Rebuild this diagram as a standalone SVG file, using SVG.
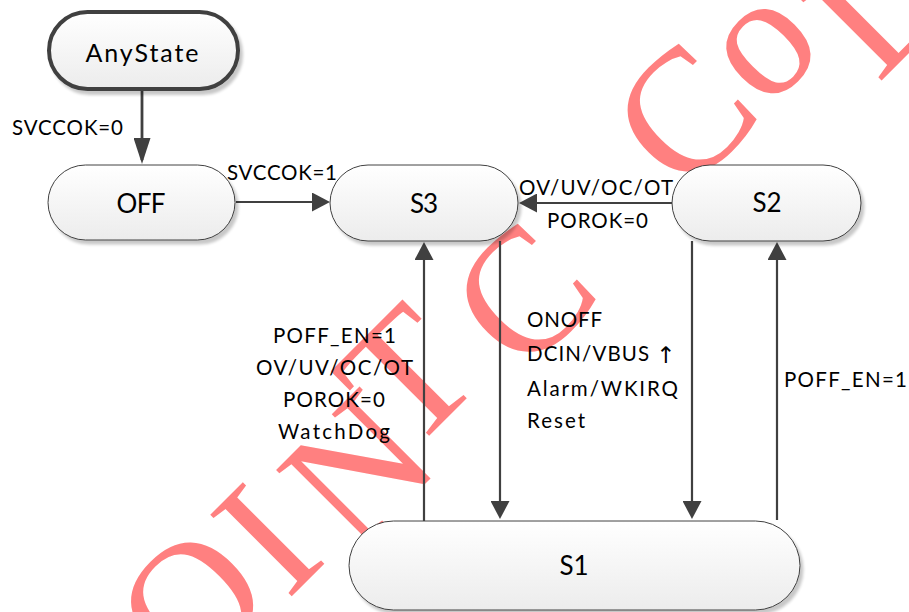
<svg xmlns="http://www.w3.org/2000/svg" width="909" height="612" viewBox="0 0 909 612">
  <style>
    .node { fill: url(#nodeFill); stroke: #404040; stroke-width: 1; filter: url(#shadow); }
    .start { stroke-width: 4; }
    .edge { fill: none; stroke: #404040; stroke-width: 2.2; }
    .lbl { font-family: Lato, 'Liberation Sans', sans-serif; font-size: 20.5px; fill: #000; }
    .nt { font-family: Lato, 'Liberation Sans', sans-serif; font-size: 26px; fill: #000; text-anchor: middle; }
    .wm { font-family: 'Liberation Serif', 'Times New Roman', serif; font-size: 176px; fill: #ff8080; text-anchor: middle; }
  </style>
  <defs>
    <linearGradient id="nodeFill" x1="0" y1="0" x2="0" y2="1">
      <stop offset="0" stop-color="#ffffff"/>
      <stop offset="1" stop-color="#ececec"/>
    </linearGradient>
    <filter id="shadow" x="-10%" y="-20%" width="130%" height="160%">
      <feGaussianBlur in="SourceAlpha" stdDeviation="1.8"/>
      <feOffset dx="3" dy="4"/>
      <feComponentTransfer><feFuncA type="linear" slope="0.22"/></feComponentTransfer>
      <feMerge><feMergeNode/><feMergeNode in="SourceGraphic"/></feMerge>
    </filter>
    <marker id="head" markerUnits="userSpaceOnUse" markerWidth="18" markerHeight="19" refX="14" refY="9.5" orient="auto">
      <path d="M0,0 L18,9.5 L0,19 Z" fill="#404040"/>
    </marker>
    <marker id="headLong" markerUnits="userSpaceOnUse" markerWidth="26" markerHeight="17" refX="22" refY="8.5" orient="auto">
      <path d="M0,0 L26,8.5 L0,17 Z" fill="#404040"/>
    </marker>
  </defs>

  <rect width="909" height="612" fill="#ffffff"/>

  <!-- diagonal watermark lettering -->
  <g id="watermark">
    <text class="wm" x="233" y="644" transform="rotate(-45 233 644)">O</text>
    <text class="wm" x="308" y="580" transform="rotate(-45 308 580)">I</text>
    <text class="wm" x="399" y="510" transform="rotate(-45 399 510)">N</text>
    <text class="wm" x="448" y="417" transform="rotate(-45 448 417)">T</text>
    <text class="wm" x="564" y="336" transform="rotate(-45 564 336)">C</text>
    <text class="wm" x="725" y="156" transform="rotate(-45 725 156)">C</text>
    <text class="wm" x="797" y="80" transform="rotate(-45 797 80)">o</text>
    <text class="wm" x="916" y="46" transform="rotate(-45 916 46)">L</text>
  </g>

  <!-- transitions -->
  <g id="connectors">
    <path class="edge" d="M142,91 L142,160" style="stroke-width:2.8" marker-end="url(#headLong)"/>
    <path class="edge" d="M236,202 L326,202" marker-end="url(#head)"/>
    <path class="edge" d="M672,203 L523,203" marker-end="url(#head)"/>
    <path class="edge" d="M424,521 L424,246" marker-end="url(#head)"/>
    <path class="edge" d="M500,241 L500,515" marker-end="url(#head)"/>
    <path class="edge" d="M692,241 L692,515" marker-end="url(#head)"/>
    <path class="edge" d="M777,520 L777,246" marker-end="url(#head)"/>
  </g>

  <!-- states -->
  <g id="anystate">
    <rect class="node start" x="49" y="12" width="189" height="77" rx="38.5"/>
    <text class="nt" x="142" y="62" style="font-size:25px" textLength="113">AnyState</text>
  </g>
  <g id="off">
    <rect class="node" x="48" y="165" width="187" height="75" rx="37.5"/>
    <text class="nt" x="141" y="213" textLength="49">OFF</text>
  </g>
  <g id="s3">
    <rect class="node" x="330" y="165" width="188" height="76" rx="38"/>
    <text class="nt" x="424" y="213" textLength="28">S3</text>
  </g>
  <g id="s2">
    <rect class="node" x="672" y="165" width="189" height="76" rx="38"/>
    <text class="nt" x="767" y="212" textLength="29">S2</text>
  </g>
  <g id="s1">
    <rect class="node" x="349" y="521" width="451" height="89" rx="44.5"/>
    <text class="nt" x="574" y="575" textLength="29">S1</text>
  </g>

  <!-- transition labels -->
  <g id="labels">
    <text class="lbl" x="12" y="135" textLength="111">SVCCOK=0</text>
    <text class="lbl" x="227" y="180" textLength="110">SVCCOK=1</text>
    <text class="lbl" x="519" y="195" textLength="154">OV/UV/OC/OT</text>
    <text class="lbl" x="547" y="228" textLength="101">POROK=0</text>

    <text class="lbl" x="273" y="343" textLength="123">POFF_EN=1</text>
    <text class="lbl" x="256" y="375" textLength="157">OV/UV/OC/OT</text>
    <text class="lbl" x="283" y="407" textLength="102">POROK=0</text>
    <text class="lbl" x="278" y="439" textLength="112">WatchDog</text>

    <text class="lbl" x="527" y="327" textLength="75">ONOFF</text>
    <text class="lbl" x="527" y="361"><tspan textLength="122">DCIN/VBUS</tspan><tspan x="656" y="363" style="font-family:'DejaVu Sans',sans-serif;font-size:23px">↑</tspan></text>
    <text class="lbl" x="527" y="396" textLength="151">Alarm/WKIRQ</text>
    <text class="lbl" x="527" y="428" textLength="58">Reset</text>

    <text class="lbl" x="784" y="387" textLength="123">POFF_EN=1</text>
  </g>
</svg>
